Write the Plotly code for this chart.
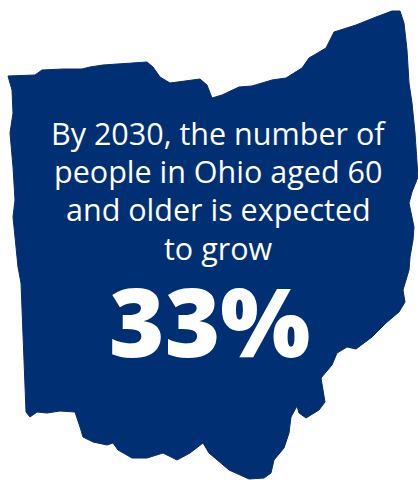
import plotly.graph_objects as go

outline_x = [8,35,42,63,82,90,103,122,147,153,160,170,183,200,207,209,212,222,239,252,272,286,302,309,326,334,356,376,392,400,404,407,409,412,415,418,412,409,414,413,410,409,403,405,399,386,372,356,347,337,332,321,325,319,306,299,297,291,289,284,274,271,264,249,229,209,203,190,177,163,147,132,118,113,107,93,83,80,75,60,47,37,30,26,25,23,21,18,15,13,15,13,10,13,12,8]
outline_y = [76,75,70,69,69,67,65,64,62,67,77,83,81,79,85,90,98,95,87,86,80,78,68,58,48,32,25,17,11,11,23,50,83,103,133,177,192,203,227,240,257,270,290,302,312,323,337,349,347,353,365,378,402,410,418,413,406,417,433,448,460,473,478,479,470,453,443,453,460,453,458,458,450,443,445,442,437,427,412,411,413,412,417,412,383,340,283,267,240,217,200,167,133,113,90,76]

text_lines = ["By 2030, the number of", "people in Ohio aged 60", "and older is expected", "to grow"]
line_y = [133, 171, 209, 248]
headline = "33%"

fig = go.Figure()
fig.add_trace(go.Scatter(x=outline_x, y=outline_y, mode="lines", fill="toself",
                         fillcolor="#012f73", line=dict(color="#0b2c68", width=1),
                         hoverinfo="skip", showlegend=False))
for t, y in zip(text_lines, line_y):
    fig.add_annotation(x=218, y=y, text=t, showarrow=False,
                       font=dict(family="Open Sans", size=30.5, color="white"))
fig.add_annotation(x=209, y=320, text=headline, showarrow=False,
                   font=dict(family="Open Sans", size=95, color="white", weight=800))
fig.update_xaxes(range=[0, 418], visible=False, fixedrange=True)
fig.update_yaxes(range=[480, 0], visible=False, fixedrange=True)
fig.update_layout(width=418, height=480, margin=dict(l=0, r=0, t=0, b=0),
                  paper_bgcolor="white", plot_bgcolor="white")
fig.write_html("out.html", post_script="document.body.style.margin='0';", config={"displayModeBar": False})
